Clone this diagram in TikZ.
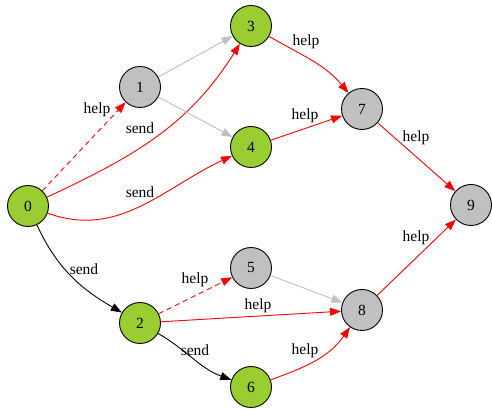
\documentclass[tikz,border=0pt]{standalone}
\usepackage{fontspec}
\setmainfont{Liberation Serif}
\usetikzlibrary{arrows.meta}
\definecolor{ygreen}{RGB}{154,205,50}
\definecolor{silv}{RGB}{192,192,192}
\begin{document}
\begin{tikzpicture}[x=1pt,y=1pt,
  vtx/.style={circle,draw=black,line width=0.9pt,minimum size=41pt,inner sep=0pt,font=\fontsize{15.5}{18}\selectfont},
  gv/.style={vtx,fill=ygreen},
  sv/.style={vtx,fill=silv},
  lbl/.style={inner sep=0pt,font=\fontsize{15.5}{18}\selectfont},
  edge/.style={line width=0.9pt,-{Triangle[length=11pt,width=8pt]}},
  redge/.style={edge,red},
  gedge/.style={edge,silv},
  bedge/.style={edge,black},
  dedge/.style={redge,dash pattern=on 5pt off 4pt}]
\useasboundingbox (0,0) rectangle (492,409);
\node[gv] (n0) at (28,203) {0};
\node[sv] (n1) at (140,322) {1};
\node[gv] (n3) at (251,383) {3};
\node[gv] (n4) at (251,262) {4};
\node[sv] (n7) at (362,300) {7};
\node[sv] (n9) at (471,204) {9};
\node[sv] (n5) at (251,141) {5};
\node[sv] (n8) at (362,99) {8};
\node[gv] (n2) at (140,86) {2};
\node[gv] (n6) at (251,22) {6};

\draw[dedge] (n0) -- (n1);
\draw[redge] (n0) to[out=25,in=238] (n3);
\draw[redge] (n0) to[out=-20,in=205] (n4);
\draw[bedge] (n0) to[out=-65,in=150] (n2);
\draw[gedge] (n1) -- (n3);
\draw[gedge] (n1) -- (n4);
\draw[redge] (n3) to[out=-30,in=130] (n7);
\draw[redge] (n4) -- (n7);
\draw[redge] (n7) -- (n9);
\draw[dedge] (n2) -- (n5);
\draw[redge] (n2) -- (n8);
\draw[gedge] (n5) -- (n8);
\draw[bedge] (n2) to[out=-30,in=160] (n6);
\draw[redge] (n6) to[out=20,in=235] (n8);
\draw[redge] (n8) -- (n9);

\node[lbl] (l01) at (97,299) {help};
\node[lbl] (l03) at (140,281) {send};
\node[lbl] (l04) at (140,217) {send};
\node[lbl] (l02) at (84,140) {send};
\node[lbl] (l37) at (306,367) {help};
\node[lbl] (l47) at (305,293) {help};
\node[lbl] (l79) at (416,271) {help};
\node[lbl] (l25) at (195,129) {help};
\node[lbl] (l28) at (258,103) {help};
\node[lbl] (l68) at (305,58) {help};
\node[lbl] (l89) at (416,171) {help};
\node[lbl] (l26) at (195,59) {send};
\end{tikzpicture}
\end{document}
